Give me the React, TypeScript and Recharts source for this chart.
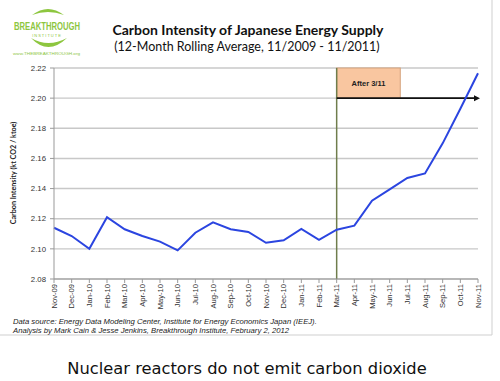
import React from 'react';
import { LineChart, Line, XAxis, YAxis, CartesianGrid, ReferenceLine, ReferenceArea } from 'recharts';

const months = [
  'Nov-09', 'Dec-09', 'Jan-10', 'Feb-10', 'Mar-10', 'Apr-10', 'May-10', 'Jun-10', 'Jul-10',
  'Aug-10', 'Sep-10', 'Oct-10', 'Nov-10', 'Dec-10', 'Jan-11', 'Feb-11', 'Mar-11', 'Apr-11',
  'May-11', 'Jun-11', 'Jul-11', 'Aug-11', 'Sep-11', 'Oct-11', 'Nov-11',
];
const intensity = [
  2.114, 2.1085, 2.100, 2.121, 2.113, 2.1085, 2.1048, 2.099, 2.1107,
  2.1176, 2.113, 2.1112, 2.104, 2.1057, 2.1132, 2.106, 2.1127, 2.1154,
  2.132, 2.1395, 2.147, 2.150, 2.170, 2.193, 2.2165,
];
const yTicks = [2.08, 2.10, 2.12, 2.14, 2.16, 2.18, 2.20, 2.22];

const data = months.map((m, i) => ({ month: m, value: intensity[i] }));

const XTick = (props: any) => {
  const { x, y, payload } = props;
  return (
    <text
      x={x}
      y={y}
      transform={`rotate(-90, ${x}, ${y})`}
      textAnchor="end"
      dy={2.8}
      fontSize={7.6}
      fontFamily="Liberation Sans, Arial, sans-serif"
      fill="#333"
    >
      {payload.value}
    </text>
  );
};

const BoxShape = (props: any) => {
  const { x, y, width, height } = props;
  const w = width * 0.9;
  return (
    <g>
      <rect x={x} y={y} width={w} height={height} fill="#f9c6a0" stroke="#d4a27c" strokeWidth={1} />
      <text x={x + w / 2} y={y + height / 2 + 3} textAnchor="middle" fontSize={7.5} fontWeight="bold"
        fontFamily="Liberation Sans, Arial, sans-serif" fill="#222">After 3/11</text>
    </g>
  );
};

const ArrowShape = (props: any) => {
  const { x1, y1, x2, y2 } = props;
  return (
    <g>
      <line x1={x1} y1={y1} x2={x2 - 3} y2={y2} stroke="#111" strokeWidth={1.6} />
      <polygon points={`${x2 + 2},${y2} ${x2 - 4},${y2 - 3} ${x2 - 4},${y2 + 3}`} fill="#111" />
    </g>
  );
};

export default function App() {
  const font = 'Lato, "Open Sans", sans-serif';
  return (
    <div style={{ position: 'absolute', left: 0, top: 0, width: 500, height: 381, background: '#fff', overflow: 'hidden' }}>
      <LineChart width={500} height={381} data={data} margin={{ top: 68, right: 22, bottom: 0, left: 0 }}>
        <CartesianGrid vertical={false} stroke="#c8c8c8" strokeWidth={1.4} />
        <XAxis
          dataKey="month"
          interval={0}
          height={102}
          tick={<XTick />}
          tickSize={4}
          tickMargin={1}
          stroke="#999"
          tickLine={{ stroke: '#999' }}
        />
        <YAxis
          domain={[2.08, 2.22]}
          ticks={yTicks}
          width={54}
          tickSize={4}
          tickMargin={4}
          stroke="#999"
          tickFormatter={(v: number) => v.toFixed(2)}
          tick={{ fontSize: 7.8, fill: '#333', fontFamily: 'Liberation Sans, Arial, sans-serif' }}
        />
        <ReferenceArea x1="Mar-11" x2="Jul-11" y1={2.2} y2={2.22} shape={<BoxShape />} ifOverflow="visible" />
        <ReferenceLine x="Mar-11" stroke="#6f7d4c" strokeWidth={1.5} />
        <ReferenceLine
          segment={[{ x: 'Mar-11', y: 2.2 }, { x: 'Nov-11', y: 2.2 }]}
          shape={<ArrowShape />}
          ifOverflow="visible"
        />
        <Line type="linear" dataKey="value" stroke="#2b45e0" strokeWidth={2} dot={false} isAnimationActive={false} />
      </LineChart>
      <svg width={500} height={381} style={{ position: 'absolute', left: 0, top: 0, pointerEvents: 'none' }}>
        {/* frame */}
        <line x1={492} y1={0} x2={492} y2={335} stroke="#cfcfcf" strokeWidth={1} />
        <line x1={0} y1={335} x2={492} y2={335} stroke="#cfcfcf" strokeWidth={1} />
        {/* logo */}
        <path d="M 32 15 Q 48 3 64 15 Q 48 9 32 15 Z" fill="#8dc63f" />
        <text x={14} y={30} fontSize={10} fontWeight="bold" fontFamily="Liberation Sans Narrow, Liberation Sans, sans-serif" fill="#8dc63f" textLength={66} lengthAdjust="spacingAndGlyphs">BREAKTHROUGH</text>
        <text x={47} y={36.5} textAnchor="middle" fontSize={4} fontFamily="Liberation Sans, sans-serif" fill="#8dc63f" letterSpacing={1}>INSTITUTE</text>
        <path d="M 31 38 Q 48 56 67 38 Q 48 48 31 38 Z" fill="#8dc63f" />
        <text x={13} y={55} fontSize={3.8} fontFamily="Liberation Sans, sans-serif" fill="#8dc63f" textLength={67} lengthAdjust="spacingAndGlyphs">www.THEBREAKTHROUGH.org</text>
        {/* titles */}
        <text x={248} y={35} textAnchor="middle" fontSize={14} fontWeight="bold" fontFamily={font} fill="#111">Carbon Intensity of Japanese Energy Supply</text>
        <text x={247} y={51} textAnchor="middle" fontSize={12.5} fontFamily={font} fill="#111">(12-Month Rolling Average, 11/2009 - 11/2011)</text>
        {/* y label */}
        <text x={16} y={173} transform="rotate(-90, 16, 173)" textAnchor="middle" fontSize={7.2} fontWeight="bold" fontFamily={font} fill="#222">Carbon Intensity (kt CO2 / ktoe)</text>
        {/* source */}
        <text x={13} y={324} fontSize={7.7} fontStyle="italic" fontFamily="Liberation Sans, Arial, sans-serif" fill="#222">Data source: Energy Data Modeling Center, Institute for Energy Economics Japan (IEEJ).</text>
        <text x={13} y={332.5} fontSize={7.7} fontStyle="italic" fontFamily="Liberation Sans, Arial, sans-serif" fill="#222">Analysis by Mark Cain &amp; Jesse Jenkins, Breakthrough Institute, February 2, 2012</text>
        {/* caption */}
        <text x={247} y={374} textAnchor="middle" fontSize={16.3} fontFamily="DejaVu Sans, Verdana, sans-serif" fill="#111">Nuclear reactors do not emit carbon dioxide</text>
      </svg>
    </div>
  );
}
